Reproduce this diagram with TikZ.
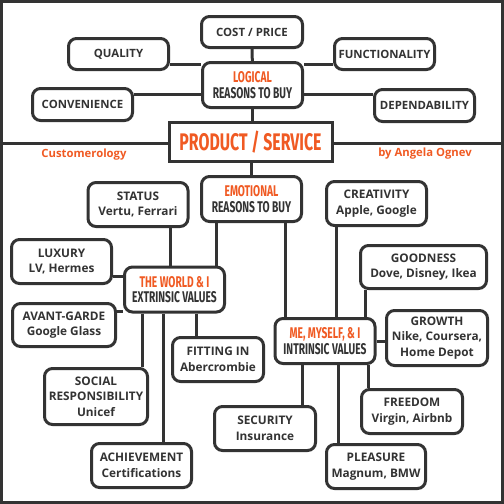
\documentclass[tikz,border=0pt]{standalone}
\usepackage{fontspec}
\setmainfont{Open Sans}
\newfontfamily\condfont[FakeStretch=0.66]{Fira Sans}
\usepackage{xcolor}
\definecolor{ink}{HTML}{333333}
\definecolor{accent}{RGB}{240,90,35}

\begin{document}
\begin{tikzpicture}[x=1pt,y=-1pt,
    box/.style={draw=ink,line width=3pt,rounded corners=8pt,fill=white,align=center,text=ink,
      font=\bfseries\fontsize{11.8}{15.5}\selectfont,minimum width=100pt,minimum height=44pt,inner sep=1pt},
    topbox/.style={box,minimum height=31pt,font=\bfseries\fontsize{11.4}{15.5}\selectfont},
    hub/.style={box,font=\condfont\bfseries\fontsize{15.5}{15.7}\selectfont,minimum height=45pt},
    link/.style={draw=ink,line width=3pt},
    credit/.style={text=accent,font=\bfseries\fontsize{11.3}{12}\selectfont}]
          \useasboundingbox (0,0) rectangle (504,504);
          \draw[ink,line width=3pt] (1.5,1.5) rectangle (502.5,502.5);

          \coordinate (left) at (0,143);
          \coordinate (right) at (504,143);
          \draw[link] (left) -- (right);

          \node[topbox,minimum width=101pt] (cost) at (252,32) {COST / PRICE};
          \node[topbox] (quality) at (118.5,54) {QUALITY};
          \node[topbox] (functionality) at (384.5,54) {FUNCTIONALITY};
          \node[topbox,minimum height=32pt] (convenience) at (82.5,104.5) {CONVENIENCE};
          \node[topbox,minimum height=32pt] (dependability) at (424.5,105.5) {DEPENDABILITY};
          \node[hub] (logical) at (252.5,85) {{\color{accent}LOGICAL}\\REASONS TO BUY};
          \node[draw=ink,line width=3pt,fill=white,minimum width=163pt,minimum height=39pt,text=accent,
            font=\condfont\bfseries\fontsize{24}{24}\selectfont] (product) at (250.5,142) {PRODUCT / SERVICE};
          \node[credit] (brand) at (84,155) {Customerology};
          \node[credit] (author) at (425,154) {by Angela Ognev};

          \node[box] (status) at (138,204.5) {STATUS\\Vertu, Ferrari};
          \node[hub] (emotional) at (251.5,199) {{\color{accent}EMOTIONAL}\\REASONS TO BUY};
          \node[box] (creativity) at (376.5,203.5) {CREATIVITY\\Apple, Google};
          \node[box] (luxury) at (61.5,261.5) {LUXURY\\LV, Hermes};
          \node[hub] (world) at (174.5,289.5) {{\color{accent}THE WORLD \& I}\\EXTRINSIC VALUES};
          \node[box,minimum width=103pt,minimum height=43pt] (avant) at (64,325) {AVANT-GARDE\\Google Glass};
          \node[box,minimum width=126pt,minimum height=43pt] (goodness) at (423.5,267) {GOODNESS\\Dove, Disney, Ikea};
          \node[box,minimum width=101pt,minimum height=55pt] (growth) at (437,338) {GROWTH\\Nike, Coursera,\\Home Depot};
          \node[hub] (me) at (325,341) {{\color{accent}ME, MYSELF, \& I}\\INTRINSIC VALUES};
          \node[box,minimum width=91pt] (fitting) at (218,359.5) {FITTING IN\\Abercrombie};
          \node[box,minimum width=103pt,minimum height=56pt] (social) at (96,396.5) {SOCIAL\\RESPONSIBILITY\\Unicef};
          \node[box] (achievement) at (141.5,465.5) {ACHIEVEMENT\\Certifications};
          \node[box,minimum width=101pt] (security) at (265,428.5) {SECURITY\\Insurance};
          \node[box,minimum width=101pt] (freedom) at (412,411.5) {FREEDOM\\Virgin, Airbnb};
          \node[box,minimum width=99pt] (pleasure) at (376,466.5) {PLEASURE\\Magnum, BMW};

          \draw[link] (cost) -- (logical);
          \draw[link] ([yshift=-10pt]quality.east) -- ([yshift=-10pt]quality.east -| logical.west);
          \draw[link] ([yshift=-10pt]functionality.west) -- ([yshift=-10pt]functionality.west -| logical.east);
          \draw[link] ([yshift=10.5pt]convenience.east) -- ([yshift=10.5pt]convenience.east -| logical.west);
          \draw[link] ([yshift=11.5pt]dependability.west) -- ([yshift=11.5pt]dependability.west -| logical.east);
          \draw[link] (logical) -- (logical |- product.north);
          \draw[link] (emotional.north) -- (emotional.north |- product.south);

          \draw[link] ([xshift=-35.5pt]emotional.south) -- ([xshift=-35.5pt]emotional.south |- world.north);
          \draw[link] ([xshift=33.5pt]emotional.south) -- ([xshift=33.5pt]emotional.south |- me.north);
          \draw[link] ([xshift=32pt]status.south) -- ([xshift=32pt]status.south |- world.north);
          \draw[link] ([xshift=-40pt]creativity.south) -- ([xshift=-40pt]creativity.south |- me.north);
          \draw[link] ([xshift=-58pt]goodness.south) -- ([xshift=-58pt]goodness.south |- me.north);
          \draw[link] (me.east) -- (me.east -| growth.west);
          \draw[link] ([yshift=-14.5pt]luxury.east) -- ([yshift=-14.5pt]luxury.east -| world.west);
          \draw[link] ([yshift=14pt]avant.east) -- ([yshift=14pt]avant.east -| world.west);
          \draw[link] ([xshift=-32.5pt]world.south) -- ([xshift=-32.5pt]world.south |- social.north);
          \draw[link] ([xshift=-11.5pt]world.south) -- ([xshift=-11.5pt]world.south |- achievement.north);
          \draw[link] ([xshift=21.5pt]world.south) -- ([xshift=21.5pt]world.south |- fitting.north);
          \draw[link] ([xshift=-23pt]me.south) -- ([xshift=-23pt]me.south |- security.north);
          \draw[link] ([xshift=13pt]me.south) -- ([xshift=13pt]me.south |- pleasure.north);
          \draw[link] ([xshift=43pt]me.south) -- ([xshift=43pt]me.south |- freedom.north);
\end{tikzpicture}
\end{document}
